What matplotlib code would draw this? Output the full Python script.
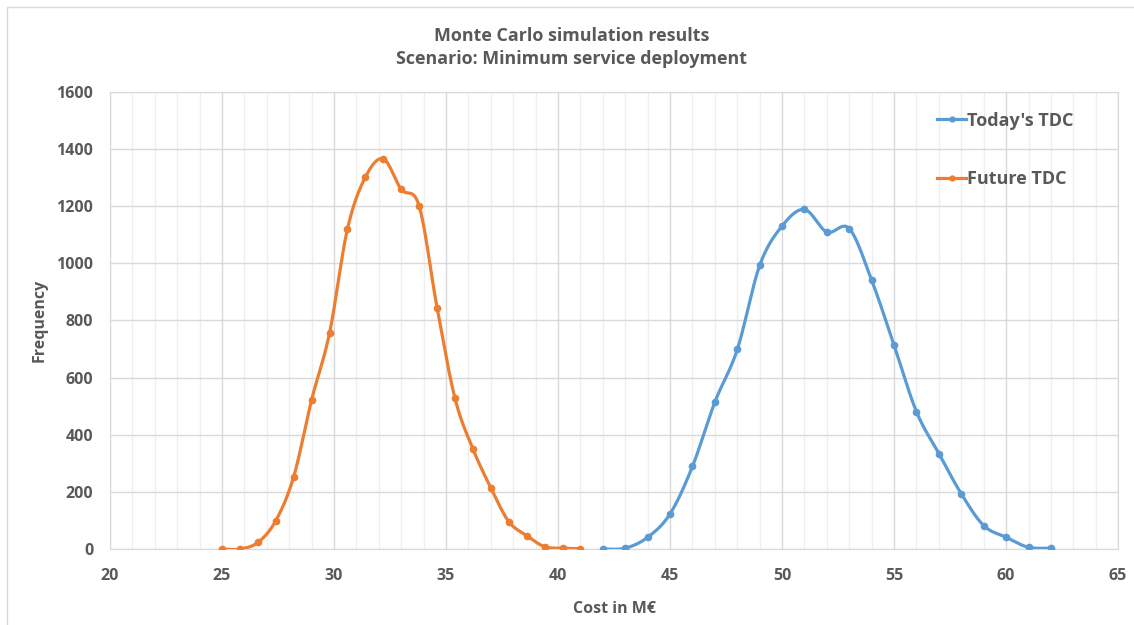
import numpy as np
import matplotlib
matplotlib.use("Agg")
import matplotlib.pyplot as plt
from matplotlib.patches import Rectangle

# values
future_cost = [25.0, 25.8, 26.6, 27.4, 28.2, 29.0, 29.8, 30.6, 31.4, 32.2, 33.0,
               33.8, 34.6, 35.4, 36.2, 37.0, 37.8, 38.6, 39.4, 40.2, 41.0]
future_freq = [0, 0, 23, 99, 253, 522, 756, 1120, 1301, 1365, 1258,
               1200, 844, 527, 350, 214, 96, 47, 8, 3, 1]

today_cost = [42, 43, 44, 45, 46, 47, 48, 49, 50, 51, 52,
              53, 54, 55, 56, 57, 58, 59, 60, 61, 62]
today_freq = [0, 3, 41, 123, 289, 514, 698, 992, 1130, 1188, 1109,
              1121, 940, 713, 480, 334, 193, 82, 41, 6, 3]

BLUE = "#5B9BD5"
ORANGE = "#ED7D31"
TEXT = "#595959"
GRID = "#d9d9d9"
MINOR = "#efefef"

plt.rcParams["font.family"] = ["Open Sans", "DejaVu Sans"]
plt.rcParams["font.weight"] = "bold"


def smooth(x, y, n=30):
    """Excel-like smoothed line: Catmull-Rom via cubic Bezier segments."""
    p = np.column_stack([x, y]).astype(float)
    p = np.vstack([p[0], p, p[-1]])
    t = np.linspace(0, 1, n)[:, None]
    out = []
    for i in range(1, len(p) - 2):
        p0, p1, p2, p3 = p[i - 1], p[i], p[i + 1], p[i + 2]
        b1 = p1 + (p2 - p0) / 6
        b2 = p2 - (p3 - p1) / 6
        seg = ((1 - t) ** 3) * p1 + 3 * ((1 - t) ** 2) * t * b1 \
            + 3 * (1 - t) * t ** 2 * b2 + t ** 3 * p2
        out.append(seg)
    s = np.vstack(out)
    return s[:, 0], s[:, 1]


fig = plt.figure(figsize=(11.34, 6.25), dpi=100)
ax = fig.add_axes([0.097, 0.1216, 0.889, 0.7317])

for xs, ys, col, lab in [(today_cost, today_freq, BLUE, "Today's TDC"),
                         (future_cost, future_freq, ORANGE, "Future TDC")]:
    sx, sy = smooth(xs, ys)
    ax.plot(sx, sy, color=col, lw=2.3, solid_capstyle="round", zorder=3)
    ax.plot(xs, ys, "o", color=col, ms=4.5, zorder=4)
    ax.plot([], [], "-o", color=col, lw=2.3, ms=3.5, label=lab)

ax.set_xlim(20, 65)
ax.set_ylim(0, 1600)
ax.set_xticks(np.arange(20, 66, 5))
ax.set_xticks(np.arange(20, 66, 1), minor=True)
ax.set_yticks(np.arange(0, 1601, 200))
ax.grid(which="major", color=GRID, lw=1.0, zorder=0)
ax.grid(which="minor", axis="x", color=MINOR, lw=1.0, zorder=0)
ax.set_axisbelow(True)
for s in ax.spines.values():
    s.set_color(GRID)
ax.tick_params(which="both", length=0, labelsize=11.5, labelcolor=TEXT)
ax.tick_params(axis="x", pad=14)
ax.tick_params(axis="y", pad=12)

ax.set_xlabel("Cost in M€", fontsize=11.5, color=TEXT, fontweight="bold",
              labelpad=12)
ax.set_ylabel("Frequency", fontsize=11.5, color=TEXT, fontweight="bold",
              labelpad=6)
fig.suptitle("Monte Carlo simulation results\nScenario: Minimum service deployment",
             x=0.504, y=0.957, fontsize=12.9, color=TEXT, fontweight="bold",
             linespacing=1.4)

leg = ax.legend(loc="upper right", bbox_to_anchor=(0.972, 0.992), frameon=False,
                fontsize=13, labelspacing=2.25, handlelength=1.6,
                handletextpad=0.05, labelcolor=TEXT)
for t in leg.get_texts():
    t.set_fontweight("bold")

fig.patches.append(Rectangle((7 / 1134, -0.1), 1.2, 1 - 7 / 625 + 0.1,
                             transform=fig.transFigure, fill=False,
                             edgecolor=GRID, lw=1.0))

fig.savefig("out.png", dpi=100)
